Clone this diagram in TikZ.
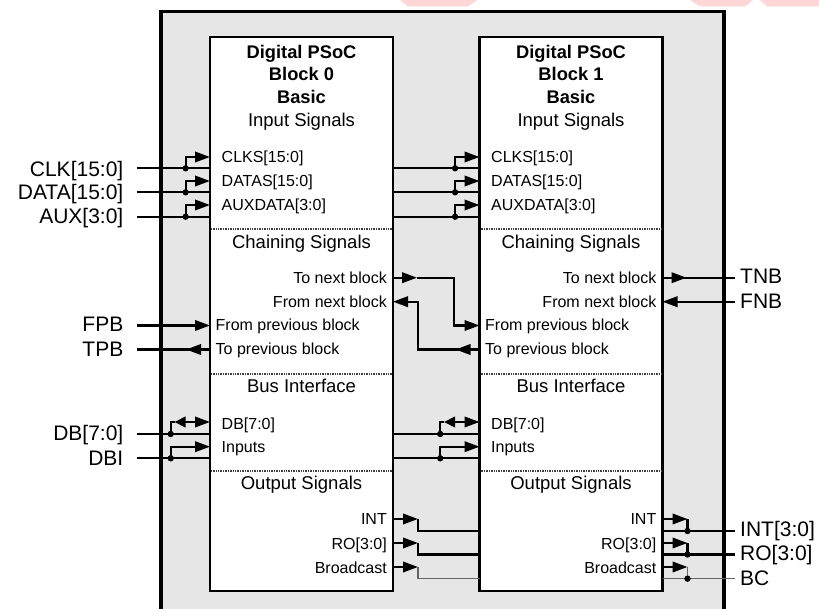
\documentclass[tikz,border=0pt]{standalone}
\usepackage{fontspec}
\setmainfont{Liberation Sans}
\usetikzlibrary{arrows.meta}
\definecolor{bgray}{RGB}{230,230,230}
\definecolor{bcgray}{RGB}{100,100,100}
\definecolor{wmpink}{RGB}{255,214,214}
\begin{document}
\begin{tikzpicture}[x=1pt,y=-1pt,
  sig/.style={line width=2.1pt},
  gsig/.style={line width=1.5pt, draw=bcgray},
  tip/.style={-{Triangle[length=15pt,width=10.5pt]}},
  dtip/.style={{Triangle[length=11pt,width=10.5pt]}-{Triangle[length=15pt,width=10.5pt]}},
  blockbox/.style={draw, line width=2.2pt, fill=white, minimum width=183pt, minimum height=554pt, inner sep=0pt, outer sep=0pt},
  divider/.style={line width=1.5pt, draw=black!75, dash pattern=on 1pt off 0.7pt},
  ext/.style={font=\fontsize{21}{21}\selectfont, inner sep=0pt},
  pin/.style={font=\fontsize{16}{16}\selectfont, inner sep=0pt},
  sec/.style={font=\fontsize{18.5}{18.5}\selectfont, inner sep=0pt},
  ttl/.style={font=\fontsize{18.3}{18.3}\selectfont\bfseries, inner sep=0pt}
]
\useasboundingbox (0,0) rectangle (819,609);
\clip (0,0) rectangle (819,609);
\fill[white] (0,0) rectangle (819,609);
% faint watermark remnants
\fill[wmpink] (400,0) -- (477,0) -- (468,6.5) -- (408,6.5) -- cycle;
\fill[wmpink] (690,0) -- (753,0) -- (745,6.5) -- (700,6.5) -- cycle;
\fill[wmpink] (760,0) -- (819,0) -- (819,6.5) -- (767,6.5) -- cycle;
% outer frame
\draw[line width=3.2pt, fill=bgray] (161,11.7) rectangle (724,660);

% ---------- blocks ----------
\foreach \i/\ox in {0/0,1/269.5}{
\begin{scope}[xshift=\ox pt]
  \node[blockbox, anchor=north west] (B\i) at (210,37) {};
  \draw[divider] (211,229) -- (392,229);
  \draw[divider] (211,374) -- (392,374);
  \draw[divider] (211,471) -- (392,471);
  \node[ttl, anchor=base] (T\i-a) at (301.5,59) {Digital PSoC};
  \node[ttl, anchor=base] (T\i-b) at (301.5,81) {Block \i};
  \node[ttl, anchor=base] (T\i-c) at (301.5,104) {Basic};
  \node[sec, anchor=base] (S\i-a) at (301.5,127) {Input Signals};
  \node[sec, anchor=base] (S\i-b) at (301.5,248.3) {Chaining Signals};
  \node[sec, anchor=base] (S\i-c) at (301.5,392.3) {Bus Interface};
  \node[sec, anchor=base] (S\i-d) at (301.5,489) {Output Signals};
  \node[pin, anchor=base west] (P\i-clks) at (221.5,163) {CLKS[15:0]};
  \node[pin, anchor=base west] (P\i-datas) at (221.5,186.7) {DATAS[15:0]};
  \node[pin, anchor=base west] (P\i-aux) at (221.5,210.7) {AUXDATA[3:0]};
  \node[pin, anchor=base east] (P\i-tnb) at (387,283.3) {To next block};
  \node[pin, anchor=base east] (P\i-fnb) at (387,307.3) {From next block};
  \node[pin, anchor=base west] (P\i-fpb) at (215.5,330.7) {From previous block};
  \node[pin, anchor=base west] (P\i-tpb) at (215.5,354.3) {To previous block};
  \node[pin, anchor=base west] (P\i-db) at (221.5,429) {DB[7:0]};
  \node[pin, anchor=base west] (P\i-in) at (221.5,452.3) {Inputs};
  \node[pin, anchor=base east] (P\i-int) at (387,524.3) {INT};
  \node[pin, anchor=base east] (P\i-ro) at (387,549) {RO[3:0]};
  \node[pin, anchor=base east] (P\i-bc) at (387,573.3) {Broadcast};
  % input pins
  \foreach \n/\ya/\yl in {clk/157/168.3, data/181/192.3, aux/205/216.7}{
    \coordinate (b\i-\n-P) at (210,\ya);
    \coordinate (b\i-\n-L) at (210,\yl);
    \coordinate (b\i-\n-R) at (393,\yl);
    \coordinate (b\i-\n-J) at (185.6,\yl);
  }
  \foreach \n/\ya/\yl in {db/422/434, dbi/446.7/458.3}{
    \coordinate (b\i-\n-P) at (210,\ya);
    \coordinate (b\i-\n-L) at (210,\yl);
    \coordinate (b\i-\n-R) at (393,\yl);
    \coordinate (b\i-\n-J) at (170.7,\yl);
    \coordinate (b\i-\n-C) at (174.5,\ya);
  }
  % chaining pins
  \coordinate (b\i-fpb) at (210,325.5);
  \coordinate (b\i-tpb) at (210,349.5);
  \coordinate (b\i-tpb-A) at (186,349.5);
  \coordinate (b\i-tnb) at (393,277.7);
  \coordinate (b\i-tnb-A) at (417,277.7);
  \coordinate (b\i-fnb) at (393,301.7);
  % output pins
  \foreach \n/\ya/\yl in {int/519/531, ro/543/554.5, bc/567/578.7}{
    \coordinate (b\i-\n-P) at (393,\ya);
    \coordinate (b\i-\n-K) at (418,\ya);
    \coordinate (b\i-\n-J) at (418,\yl);
    \coordinate (b\i-\n-R) at (393,\yl);
    \coordinate (b\i-\n-L) at (210,\yl);
  }
\end{scope}
}

% ---------- external ends ----------
\coordinate (x-clk) at (136.7,168.3);
\coordinate (x-data) at (136.7,192.3);
\coordinate (x-aux) at (136.7,216.7);
\coordinate (x-db) at (136.7,434);
\coordinate (x-dbi) at (136.7,458.3);
\coordinate (x-fpb) at (136.7,325.5);
\coordinate (x-tpb) at (136.7,349.5);
\coordinate (x-tnb) at (735,277.7);
\coordinate (x-fnb) at (735,301.7);
\coordinate (x-int) at (735,531);
\coordinate (x-ro) at (735,554.5);
\coordinate (x-bc) at (735,578.7);
\coordinate (k-tn) at (454.3,277.7);
\coordinate (k-fn) at (418.3,301.7);

% ---------- external labels ----------
\node[ext, anchor=base east] (L-clk) at (123.5,176.7) {CLK[15:0]};
\node[ext, anchor=base east] (L-data) at (123.5,200) {DATA[15:0]};
\node[ext, anchor=base east] (L-aux) at (123.5,224) {AUX[3:0]};
\node[ext, anchor=base east] (L-fpb) at (123.5,331.7) {FPB};
\node[ext, anchor=base east] (L-tpb) at (123.5,356) {TPB};
\node[ext, anchor=base east] (L-db) at (123.5,440.7) {DB[7:0]};
\node[ext, anchor=base east] (L-dbi) at (123.5,465) {DBI};
\node[ext, anchor=base west] (L-tnb) at (740,284) {TNB};
\node[ext, anchor=base west] (L-fnb) at (740,308.3) {FNB};
\node[ext, anchor=base west] (L-int) at (740,536.7) {INT[3:0]};
\node[ext, anchor=base west] (L-ro) at (740,560) {RO[3:0]};
\node[ext, anchor=base west] (L-bc) at (740,585.7) {BC};

% ---------- input buses ----------
\foreach \n in {clk,data,aux,db,dbi}{
  \draw[sig] (x-\n) -- (b0-\n-L);
  \draw[sig] (b0-\n-R) -- (b1-\n-L);
}
\foreach \i in {0,1}{
  \foreach \n in {clk,data,aux,dbi}{
    \draw[sig,tip] (b\i-\n-J) |- (b\i-\n-P);
    \fill (b\i-\n-J) circle (3.2pt);
  }
  \draw[sig] (b\i-db-J) |- (b\i-db-C);
  \draw[sig,dtip] (b\i-db-C) -- (b\i-db-P);
  \fill (b\i-db-J) circle (3.2pt);
}

% ---------- chaining ----------
\draw[sig,tip] (x-fpb) -- (b0-fpb);
\draw[sig] (b0-tpb) -- (x-tpb);
\draw[sig,tip] (b0-tpb) -- (b0-tpb-A);
\draw[sig,tip] (b0-tnb) -- (b0-tnb-A);
\draw[sig,tip] (b0-tnb-A) -- (k-tn) |- (b1-fpb);
\draw[sig,tip] (b1-tpb) -| (k-fn) -- (b0-fnb);
\draw[sig,tip] (b1-tpb) -- (b1-tpb-A);
\draw[sig] (b1-tnb) -- (x-tnb);
\draw[sig,tip] (b1-tnb) -- (b1-tnb-A);
\draw[sig,tip] (x-fnb) -- (b1-fnb);

% ---------- outputs ----------
\foreach \n in {int,ro}{
  \draw[sig,tip] (b0-\n-P) -- (b0-\n-K);
  \draw[sig] (b0-\n-K) |- (b1-\n-L);
  \draw[sig,tip] (b1-\n-P) -- (b1-\n-K);
  \draw[sig] (b1-\n-K) -- (b1-\n-J);
  \draw[sig] (b1-\n-R) -- (x-\n);
  \fill (b1-\n-J) circle (3.2pt);
}
\draw[sig,tip] (b0-bc-P) -- (b0-bc-K);
\draw[gsig] (b0-bc-K) |- (b1-bc-L);
\draw[sig,tip] (b1-bc-P) -- (b1-bc-K);
\draw[gsig] (b1-bc-K) -- (b1-bc-J);
\draw[gsig] (b1-bc-R) -- (x-bc);
\fill (b1-bc-J) circle (3.2pt);
\end{tikzpicture}
\end{document}
